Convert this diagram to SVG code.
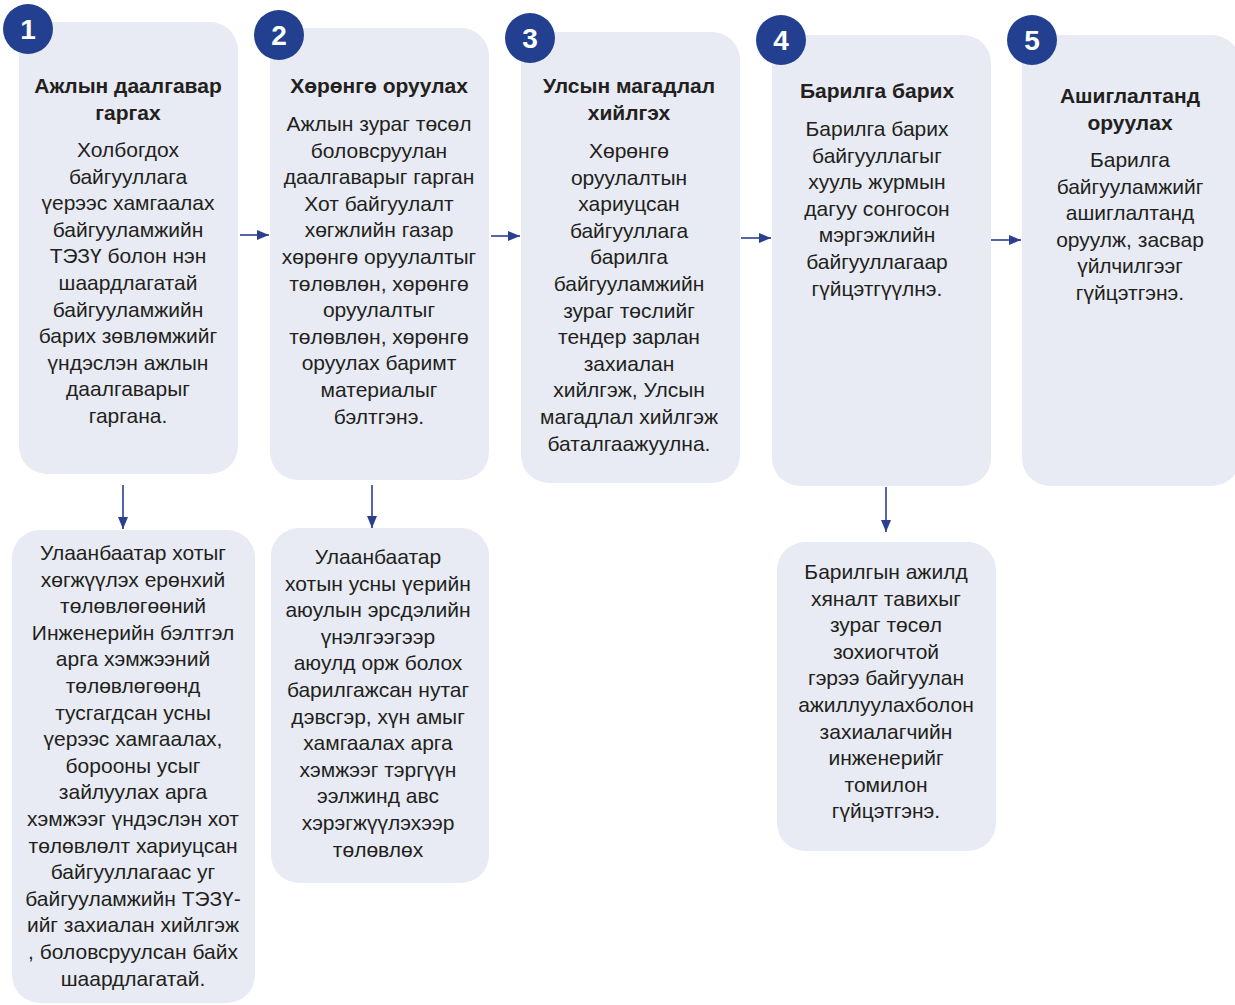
<svg xmlns="http://www.w3.org/2000/svg" width="1235" height="1005" viewBox="0 0 1235 1005">
<defs>
<style>
.box{fill:#e8ebf3}
.num{fill:#233f8f}
.numt{fill:#fff;font-family:"Liberation Sans",Arial,sans-serif;font-weight:bold;font-size:28px;text-anchor:middle}
.t{fill:#231f20;font-family:"Liberation Sans",Arial,sans-serif;font-size:21px;text-anchor:middle}
.b{font-weight:bold}
.c{stroke:#2b3f8f;stroke-width:1.6;fill:none}
</style>
<marker id="ah" viewBox="0 0 12 10" refX="12" refY="5" markerWidth="12" markerHeight="10" markerUnits="userSpaceOnUse" orient="auto">
<path d="M0,0 L12,5 L0,10 Z" fill="#2b3f8f"/>
</marker>
</defs>
<rect width="1235" height="1005" fill="#fff"/>
<g id="connectors">
<line class="c" x1="240" y1="235" x2="269" y2="235" marker-end="url(#ah)"/>
<line class="c" x1="491" y1="236" x2="520" y2="236" marker-end="url(#ah)"/>
<line class="c" x1="741" y1="238" x2="771" y2="238" marker-end="url(#ah)"/>
<line class="c" x1="991" y1="240" x2="1021" y2="240" marker-end="url(#ah)"/>
<line class="c" x1="123" y1="485" x2="123" y2="529" marker-end="url(#ah)"/>
<line class="c" x1="372" y1="485" x2="372" y2="528" marker-end="url(#ah)"/>
<line class="c" x1="886" y1="487" x2="886" y2="532" marker-end="url(#ah)"/>
</g>
<g id="node1">
<rect class="box" x="19" y="22" width="219" height="452" rx="28"/>
<circle class="num" cx="28" cy="29" r="25"/>
<text class="numt" x="28" y="39">1</text>
<text class="t b" x="128" y="93"><tspan x="128">Ажлын даалгавар</tspan><tspan x="128" dy="26.6">гаргах</tspan></text>
<text class="t" x="128" y="157"><tspan x="128">Холбогдох</tspan><tspan x="128" dy="26.6">байгууллага</tspan><tspan x="128" dy="26.6">үерээс хамгаалах</tspan><tspan x="128" dy="26.6">байгууламжийн</tspan><tspan x="128" dy="26.6">ТЭЗҮ болон нэн</tspan><tspan x="128" dy="26.6">шаардлагатай</tspan><tspan x="128" dy="26.6">байгууламжийн</tspan><tspan x="128" dy="26.6">барих зөвлөмжийг</tspan><tspan x="128" dy="26.6">үндэслэн ажлын</tspan><tspan x="128" dy="26.6">даалгаварыг</tspan><tspan x="128" dy="26.6">гаргана.</tspan></text>
</g>
<g id="node2">
<rect class="box" x="270" y="28" width="219" height="452" rx="28"/>
<circle class="num" cx="279" cy="35" r="25"/>
<text class="numt" x="279" y="45">2</text>
<text class="t b" x="379" y="93">Хөрөнгө оруулах</text>
<text class="t" x="379" y="131"><tspan x="379">Ажлын зураг төсөл</tspan><tspan x="379" dy="26.6">боловсруулан</tspan><tspan x="379" dy="26.6">даалгаварыг гарган</tspan><tspan x="379" dy="26.6">Хот байгуулалт</tspan><tspan x="379" dy="26.6">хөгжлийн газар</tspan><tspan x="379" dy="26.6">хөрөнгө оруулалтыг</tspan><tspan x="379" dy="26.6">төлөвлөн, хөрөнгө</tspan><tspan x="379" dy="26.6">оруулалтыг</tspan><tspan x="379" dy="26.6">төлөвлөн, хөрөнгө</tspan><tspan x="379" dy="26.6">оруулах баримт</tspan><tspan x="379" dy="26.6">материалыг</tspan><tspan x="379" dy="26.6">бэлтгэнэ.</tspan></text>
</g>
<g id="node3">
<rect class="box" x="521" y="32" width="219" height="451" rx="28"/>
<circle class="num" cx="530" cy="38" r="25"/>
<text class="numt" x="530" y="48">3</text>
<text class="t b" x="629" y="93"><tspan x="629">Улсын магадлал</tspan><tspan x="629" dy="26.6">хийлгэх</tspan></text>
<text class="t" x="629" y="158"><tspan x="629">Хөрөнгө</tspan><tspan x="629" dy="26.6">оруулалтын</tspan><tspan x="629" dy="26.6">хариуцсан</tspan><tspan x="629" dy="26.6">байгууллага</tspan><tspan x="629" dy="26.6">барилга</tspan><tspan x="629" dy="26.6">байгууламжийн</tspan><tspan x="629" dy="26.6">зураг төслийг</tspan><tspan x="629" dy="26.6">тендер зарлан</tspan><tspan x="629" dy="26.6">захиалан</tspan><tspan x="629" dy="26.6">хийлгэж, Улсын</tspan><tspan x="629" dy="26.6">магадлал хийлгэж</tspan><tspan x="629" dy="26.6">баталгаажуулна.</tspan></text>
</g>
<g id="node4">
<rect class="box" x="772" y="35" width="219" height="451" rx="28"/>
<circle class="num" cx="781" cy="40" r="25"/>
<text class="numt" x="781" y="50">4</text>
<text class="t b" x="877" y="98">Барилга барих</text>
<text class="t" x="877" y="136"><tspan x="877">Барилга барих</tspan><tspan x="877" dy="26.6">байгууллагыг</tspan><tspan x="877" dy="26.6">хууль журмын</tspan><tspan x="877" dy="26.6">дагуу сонгосон</tspan><tspan x="877" dy="26.6">мэргэжлийн</tspan><tspan x="877" dy="26.6">байгууллагаар</tspan><tspan x="877" dy="26.6">гүйцэтгүүлнэ.</tspan></text>
</g>
<g id="node5">
<rect class="box" x="1022" y="35" width="218" height="451" rx="28"/>
<circle class="num" cx="1032" cy="40" r="25"/>
<text class="numt" x="1032" y="50">5</text>
<text class="t b" x="1130" y="103"><tspan x="1130">Ашиглалтанд</tspan><tspan x="1130" dy="26.6">оруулах</tspan></text>
<text class="t" x="1130" y="167"><tspan x="1130">Барилга</tspan><tspan x="1130" dy="26.6">байгууламжийг</tspan><tspan x="1130" dy="26.6">ашиглалтанд</tspan><tspan x="1130" dy="26.6">оруулж, засвар</tspan><tspan x="1130" dy="26.6">үйлчилгээг</tspan><tspan x="1130" dy="26.6">гүйцэтгэнэ.</tspan></text>
</g>
<g id="node1b">
<rect class="box" x="12" y="530" width="243" height="473" rx="28"/>
<text class="t" x="133" y="560"><tspan x="133">Улаанбаатар хотыг</tspan><tspan x="133" dy="26.6">хөгжүүлэх ерөнхий</tspan><tspan x="133" dy="26.6">төлөвлөгөөний</tspan><tspan x="133" dy="26.6">Инженерийн бэлтгэл</tspan><tspan x="133" dy="26.6">арга хэмжээний</tspan><tspan x="133" dy="26.6">төлөвлөгөөнд</tspan><tspan x="133" dy="26.6">тусгагдсан усны</tspan><tspan x="133" dy="26.6">үерээс хамгаалах,</tspan><tspan x="133" dy="26.6">борооны усыг</tspan><tspan x="133" dy="26.6">зайлуулах арга</tspan><tspan x="133" dy="26.6">хэмжээг үндэслэн хот</tspan><tspan x="133" dy="26.6">төлөвлөлт хариуцсан</tspan><tspan x="133" dy="26.6">байгууллагаас уг</tspan><tspan x="133" dy="26.6">байгууламжийн ТЭЗҮ-</tspan><tspan x="133" dy="26.6">ийг захиалан хийлгэж</tspan><tspan x="133" dy="26.6">, боловсруулсан байх</tspan><tspan x="133" dy="26.6">шаардлагатай.</tspan></text>
</g>
<g id="node2b">
<rect class="box" x="271" y="528" width="218" height="355" rx="28"/>
<text class="t" x="378" y="564"><tspan x="378">Улаанбаатар</tspan><tspan x="378" dy="26.6">хотын усны үерийн</tspan><tspan x="378" dy="26.6">аюулын эрсдэлийн</tspan><tspan x="378" dy="26.6">үнэлгээгээр</tspan><tspan x="378" dy="26.6">аюулд орж болох</tspan><tspan x="378" dy="26.6">барилгажсан нутаг</tspan><tspan x="378" dy="26.6">дэвсгэр, хүн амыг</tspan><tspan x="378" dy="26.6">хамгаалах арга</tspan><tspan x="378" dy="26.6">хэмжээг тэргүүн</tspan><tspan x="378" dy="26.6">ээлжинд авс</tspan><tspan x="378" dy="26.6">хэрэгжүүлэхээр</tspan><tspan x="378" dy="26.6">төлөвлөх</tspan></text>
</g>
<g id="node4b">
<rect class="box" x="777" y="542" width="219" height="309" rx="28"/>
<text class="t" x="886" y="579"><tspan x="886">Барилгын ажилд</tspan><tspan x="886" dy="26.6">хяналт тавихыг</tspan><tspan x="886" dy="26.6">зураг төсөл</tspan><tspan x="886" dy="26.6">зохиогчтой</tspan><tspan x="886" dy="26.6">гэрээ байгуулан</tspan><tspan x="886" dy="26.6">ажиллуулахболон</tspan><tspan x="886" dy="26.6">захиалагчийн</tspan><tspan x="886" dy="26.6">инженерийг</tspan><tspan x="886" dy="26.6">томилон</tspan><tspan x="886" dy="26.6">гүйцэтгэнэ.</tspan></text>
</g>
</svg>
